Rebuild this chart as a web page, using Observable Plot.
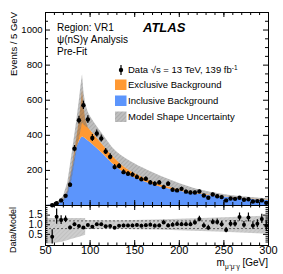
<!DOCTYPE html>
<html><head><meta charset="utf-8">
<script src="https://cdn.jsdelivr.net/npm/d3@7"></script>
<script src="https://cdn.jsdelivr.net/npm/@observablehq/plot@0.6"></script>
<style>
body{margin:0;background:#fff;}
#chart{position:relative;width:283px;height:274px;}
#chart svg{display:block;overflow:visible;}
</style></head><body><div id="chart"></div>
<script>
// ---------- data ----------
const binCenters = [52.5,57.5,62.5,67.5,72.5,77.5,82.5,87.5,92.5,97.5,102.5,107.5,112.5,117.5,122.5,127.5,132.5,137.5,142.5,147.5,152.5,157.5,162.5,167.5,172.5,177.5,182.5,187.5,192.5,197.5,202.5,207.5,212.5,217.5,222.5,227.5,232.5,237.5,242.5,247.5,252.5,257.5,262.5,267.5,272.5,277.5,282.5,287.5,292.5,297.5];
const dataEvents = [0,1,13,29,55,118,324,486,571,490,385,410,382,308,278,219,225,190,181,176,162,149,152,131,124,131,105,124,90,86,95,79,74,74,80,57,44,63,53,48,29,40,38,44,33,36,23,25,29,15];
const ratioValues = [null,0.37,1.42,1.24,1.28,0.86,1.03,0.93,0.86,0.98,0.90,1.03,1.03,0.92,0.93,0.84,0.95,0.96,0.96,0.96,0.98,0.95,0.97,1.0,0.95,0.96,1.12,0.96,1.0,1.04,1.02,1.02,1.02,1.12,1.3,0.96,0.84,1.14,1.14,1.02,0.72,1.05,1.05,1.4,1.0,1.38,0.96,1.05,1.3,0.95];

const modelMass = [50,55,60,65,70,75,80,85,88,90,91.5,93,95,98,100,105,110,115,120,125,130,135,140,145,150,155,160,165,170,175,180,185,190,195,200,205,210,215,220,225,230,235,240,245,250,255,260,265,270,275,280,285,290,295,300];
const inclusiveBkg = [0,2,5,12,28,80,205,330,365,385,390,388,380,368,360,338,315,290,265,240,218,198,183,170,158,147,137,128,119,111,104,98,92,87,82,77,73,69,65,62,59,56,53,50,47,45,43,41,39,37,35,33,32,30,29];
const exclusiveBkg = [0,0,1,2,3,6,15,50,120,190,270,180,110,75,70,62,56,50,46,42,38,34,30,27,24,22,20,18,16,14,12,11,10,9,8,7,6,5,5,4,4,3,3,3,2,2,2,2,2,2,2,2,2,2,2];
const bandHigh = [2,6,12,25,50,130,300,480,600,690,745,650,580,530,510,470,435,400,365,330,305,285,268,252,238,224,212,200,188,176,165,155,145,135,126,117,108,100,93,87,81,76,71,67,63,59,56,53,50,48,46,44,42,40,38];
const bandLow = [0,1,3,8,18,50,150,300,380,430,470,460,450,440,430,400,371,340,311,282,256,232,213,197,182,169,157,146,135,125,116,109,102,96,90,84,79,74,70,66,63,59,56,53,49,47,45,43,41,39,37,35,34,32,31];

const ratioBandMass = [50,55,60,70,80,90,95,95.1,110,130,150,175,200,225,250,275,300];
const ratioBandHigh = [1.33,1.33,1.33,1.33,1.33,1.33,1.33,1.22,1.21,1.21,1.22,1.25,1.28,1.32,1.36,1.40,1.45];
const ratioBandLow = [0,0,0.02,0.1,0.25,0.38,0.45,0.75,0.76,0.76,0.74,0.72,0.69,0.65,0.61,0.56,0.5];

const yTicksMain = [200,400,600,800,1000];
const xTicks = [50,100,150,200,250,300];
const ratioTicks = [0.5,1.0,1.5];
const ratioRefLines = [0.8,1.2];

const legendLabels = ["Exclusive Background","Inclusive Background","Model Shape Uncertainty"];
const infoLines = ["Region: VR1","\u03c8(nS)\u03b3 Analysis","Pre-Fit"];

// ---------- layout ----------
const W = 283, ML = 45, MR = 15, MT = 12;
const mainH = 205, ratioH = 69, ratioMB = 29;
const fw = W - ML - MR;
const fhMain = mainH - MT;
const fhRatio = ratioH - ratioMB;
const FONT = "'Liberation Sans', Arial, Helvetica, sans-serif";
const BLUE = "#5c95fc", ORANGE = "#ff9933";

const model = modelMass.map((m,i)=>({m, inc: inclusiveBkg[i], tot: inclusiveBkg[i]+exclusiveBkg[i], lo: bandLow[i], hi: bandHigh[i]}));
const pts = binCenters.map((m,i)=>({m, v: dataEvents[i], r: ratioValues[i]})).filter(d=>d.v>0);
const rpts = pts.filter(d=>d.r!=null);
const rband = ratioBandMass.map((m,i)=>({m, lo: ratioBandLow[i], hi: ratioBandHigh[i]}));

const xMinor = d3.range(50, 301, 10);
const yMinorMain = d3.range(50, 1100, 50).filter(v=>!yTicksMain.includes(v));
const yMinorRatio = d3.range(0.1, 2.0, 0.1).map(v=>+v.toFixed(2)).filter(v=>!ratioTicks.includes(v));

function tickMarks(fh, yMaj, yMin, majLen, minLen){
  return [
    Plot.tickY(yMaj,{y:d=>d, insetRight: fw-majLen, stroke:"black"}),
    Plot.tickY(yMaj,{y:d=>d, insetLeft: fw-majLen, stroke:"black"}),
    Plot.tickY(yMin,{y:d=>d, insetRight: fw-minLen, stroke:"black"}),
    Plot.tickY(yMin,{y:d=>d, insetLeft: fw-minLen, stroke:"black"}),
    Plot.tickX(xTicks,{x:d=>d, insetTop: fh-majLen, stroke:"black"}),
    Plot.tickX(xTicks,{x:d=>d, insetBottom: fh-majLen, stroke:"black"}),
    Plot.tickX(xMinor,{x:d=>d, insetTop: fh-minLen, stroke:"black"}),
    Plot.tickX(xMinor,{x:d=>d, insetBottom: fh-minLen, stroke:"black"})
  ];
}

const mainPlot = Plot.plot({
  width: W, height: mainH, marginLeft: ML, marginRight: MR, marginTop: MT, marginBottom: 0,
  x: {domain: [50,300], axis: null},
  y: {domain: [0,1100]},
  style: {fontFamily: FONT, fontSize: "9.5px", background: "transparent", color: "black"},
  marks: [
    Plot.areaY(model, {x:"m", y1:0, y2:"inc", fill: BLUE}),
    Plot.areaY(model, {x:"m", y1:"inc", y2:"tot", fill: ORANGE}),
    Plot.areaY(model, {x:"m", y1:"lo", y2:"hi", fill: "url(#hatchDark)"}),
    Plot.ruleX(pts, {x:"m", y1:d=>d.v-Math.sqrt(d.v), y2:d=>d.v+Math.sqrt(d.v), stroke:"black", strokeWidth:1.2}),
    Plot.dot(pts, {x:"m", y:"v", r:2.2, fill:"black", stroke:null}),
    ...tickMarks(fhMain, yTicksMain, yMinorMain, 5, 3),
    Plot.frame({stroke:"black"}),
    Plot.axisY(yTicksMain, {tickSize:0, tickPadding:3, label:null, tickFormat:d3.format("d"), fontSize:9.5})
  ]
});

const ratioPlot = Plot.plot({
  width: W, height: ratioH, marginLeft: ML, marginRight: MR, marginTop: 0, marginBottom: ratioMB,
  x: {domain: [50,300]},
  y: {domain: [-0.08,2.0]},
  style: {fontFamily: FONT, fontSize: "10px", background: "transparent", color: "black"},
  marks: [
    Plot.areaY(rband, {x:"m", y1:"lo", y2:"hi", fill:"url(#hatchLight)", clip:true}),
    Plot.ruleY(ratioRefLines, {stroke:"#444", strokeWidth:0.8, strokeDasharray:"2,2"}),
    Plot.ruleX(rpts, {x:"m", y1:d=>d.r-d.r/Math.sqrt(d.v), y2:d=>d.r+d.r/Math.sqrt(d.v), stroke:"black", strokeWidth:1.2, clip:true}),
    Plot.dot(rpts, {x:"m", y:"r", r:2, fill:"black", stroke:null, clip:true}),
    ...tickMarks(fhRatio, ratioTicks, yMinorRatio, 5, 2.5),
    Plot.frame({stroke:"black"}),
    Plot.axisY(ratioTicks, {tickSize:0, tickPadding:3, label:null, tickFormat:d3.format(".1f"), fontSize:10}),
    Plot.axisX(xTicks, {tickSize:0, tickPadding:1, label:null, fontSize:11})
  ]
});

const chart = document.getElementById("chart");
chart.appendChild(mainPlot);
chart.appendChild(ratioPlot);

// ---------- patterns ----------
const svgM = d3.select(mainPlot);
const defs = svgM.insert("defs", ":first-child");
function hatch(id, bg, bgOp, line, lineOp){
  const p = defs.append("pattern").attr("id", id).attr("patternUnits","userSpaceOnUse")
    .attr("width",3).attr("height",3).attr("patternTransform","rotate(45)");
  p.append("rect").attr("width",3).attr("height",3).attr("fill",bg).attr("fill-opacity",bgOp);
  p.append("line").attr("x1",0).attr("y1",0).attr("x2",0).attr("y2",3)
    .attr("stroke",line).attr("stroke-width",1).attr("stroke-opacity",lineOp);
}
hatch("hatchDark", "#808080", 0.5, "#505050", 0.35);
hatch("hatchLight", "#c4c4c4", 0.85, "#9a9a9a", 0.45);

// ---------- annotations ----------
const ann = svgM.append("g").attr("font-family", FONT).attr("fill","black").attr("text-anchor","start");
infoLines.forEach((t,i)=>{
  ann.append("text").attr("x",57).attr("y",30.5+i*12.2).attr("font-size",10).text(t);
});
ann.append("text").attr("x",143).attr("y",31.5).attr("font-size",13)
  .attr("font-weight","bold").attr("font-style","italic").text("ATLAS");

// legend
const lx = 121;
ann.append("line").attr("x1",lx).attr("x2",lx).attr("y1",65).attr("y2",75).attr("stroke","black").attr("stroke-width",1.2);
ann.append("circle").attr("cx",lx).attr("cy",70).attr("r",2.2).attr("fill","black");
const dt = ann.append("text").attr("x",128).attr("y",73.3).attr("font-size",9.5);
dt.append("tspan").text("Data \u221as = 13 TeV, 139 fb");
dt.append("tspan").attr("font-size",6.5).attr("dy",-3.5).text("-1");
const swatches = [ORANGE, BLUE, "url(#hatchDark)"];
swatches.forEach((f,i)=>{
  const y0 = 79.5 + i*16;
  ann.append("rect").attr("x",115).attr("y",y0).attr("width",11.5).attr("height",10.5).attr("fill",f);
  ann.append("text").attr("x",128).attr("y",y0+8.6).attr("font-size",9.5).text(legendLabels[i]);
});

// y-axis title (main)
ann.append("text").attr("transform","translate(16.5,12) rotate(-90)").attr("text-anchor","end")
  .attr("font-size",9.5).text("Events / 5 GeV");

// ratio annotations
const svgR = d3.select(ratioPlot);
const annR = svgR.append("g").attr("font-family", FONT).attr("fill","black").attr("text-anchor","start");
annR.append("text").attr("transform",`translate(15.5,${230-mainH}) rotate(-90)`).attr("text-anchor","middle")
  .attr("font-size",9).text("Data/Model");
const xt = annR.append("text").attr("x", W-MR).attr("y", 266-mainH).attr("text-anchor","end").attr("font-size",10);
xt.append("tspan").text("m");
xt.append("tspan").attr("font-size",6.5).attr("dy",2.5).text("\u03bc\u207a\u03bc\u207b\u03b3");
xt.append("tspan").attr("dy",-2.5).text(" [GeV]");
</script>
</body></html>
